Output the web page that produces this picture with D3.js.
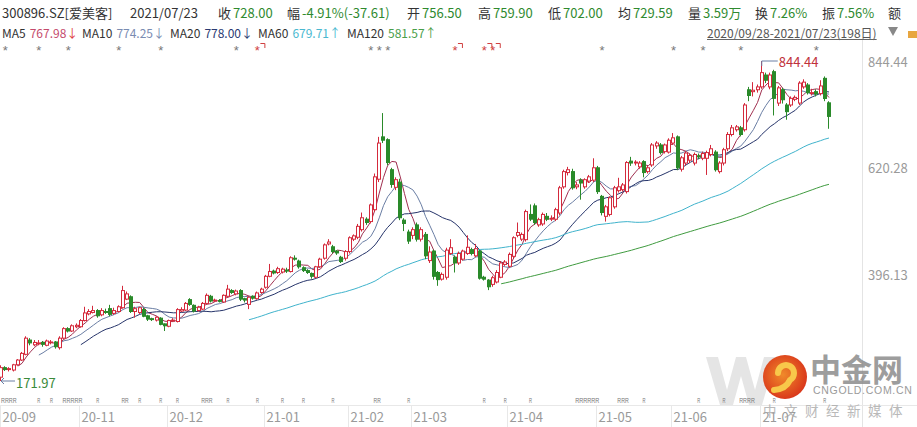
<!DOCTYPE html>
<html><head><meta charset="utf-8">
<script src="https://cdn.jsdelivr.net/npm/d3@7/dist/d3.min.js"></script>
<style>
body{margin:0;background:#fff;overflow:hidden;}
svg{display:block;font-family:"Noto Sans CJK SC","Microsoft YaHei",sans-serif;}
</style>
</head><body>
<svg id="chart" width="917" height="427"></svg>
<script>
// ---------- DATA ----------
const opens=[
180,200,196,195,206,216,228,258,248,250,
253,247,253,254,242,262,282,277,286,286,
299,313,316,320,311,318,324,314,318,326,
344,349,318,316,322,309,303,300,304,292,
287,298,297,319,321,343,331,320,323,335,
350,340,341,338,350,362,355,362,345,333,
350,345,358,369,392,403,400,401,405,402,
430,424,410,404,398,390,412,430,460,454,
445,432,430,444,470,474,490,512,507,532,
596,685,679,616,579,590,510,485,478,500,
470,480,425,445,400,386,390,440,432,420,
428,440,448,435,445,390,384,375,380,390,
417,413,434,478,470,469,522,540,500,502,
518,512,512,525,580,610,612,580,594,580,
592,594,620,560,518,522,538,572,574,570,
634,630,622,633,612,626,666,668,654,653,
672,685,617,630,636,630,645,640,640,648,
653,612,630,660,690,700,704,700,784,780,
784,790,815,790,822,756,784,752,752,764,
756,790,794,776,780,776,808,756.5];
const highs=[
205,203,201,208,218,233,266,262,258,258,
256,259,258,256,266,285,285,291,293,302,
328,323,330,323,325,324,332,326,331,372,
360,352,328,328,326,311,305,308,306,293,
301,304,325,327,338,346,333,330,338,356,
353,345,344,354,374,365,364,365,347,350,
352,360,368,395,418,406,412,410,410,434,
436,427,413,407,400,414,431,461,470,458,
447,435,447,476,480,502,526,516,545,608,
685,735,682,620,600,597,514,490,495,505,
495,485,455,448,403,400,452,470,436,444,
448,478,452,460,448,393,386,393,405,424,
426,442,476,505,484,532,543,545,515,526,
525,520,536,582,616,622,618,590,598,598,
605,640,624,563,542,560,582,599,588,634,
643,636,634,636,624,672,676,672,671,682,
693,688,645,655,650,652,650,654,656,668,
657,634,662,695,710,710,708,756,790,800,
795,844.44,820,820,826,792,788,756,770,772,
802,806,798,786,785,804,812,759.9];
const lows=[
171.97,193,192,192,204,214,226,247,245,247,
244,245,249,240,238,260,274,275,283,284,
297,310,314,305,308,313,308,311,316,324,
342,315,305,313,306,298,298,297,289,277,
285,296,295,317,319,330,316,318,321,333,
337,338,337,336,348,355,352,340,337,323,
343,343,355,366,390,396,397,398,399,400,
425,408,401,397,387,388,410,427,457,440,
437,420,425,440,466,470,486,500,503,528,
590,672,625,578,573,510,487,460,470,465,
465,428,420,385,372,383,385,437,400,416,
425,437,436,432,385,383,363,370,377,388,
414,410,430,474,466,465,508,500,496,498,
508,508,508,520,576,604,574,575,553,576,
588,590,565,520,507,518,534,568,570,566,
624,625,618,600,608,622,660,648,650,650,
668,615,612,625,630,625,638,636,605,644,
612,608,625,655,686,696,686,696,760,770,
778,786,798,785,730,750,755,721,748,760,
752,786,774,772,770,772,760,702];
const closes=[
200,196,198,206,216,230,262,252,253,252,
249,256,254,244,262,282,277,288,289,299,
315,318,320,309,320,316,312,320,328,362,
355,318,324,326,308,302,301,306,291,288,
299,300,322,322,335,333,319,327,335,352,
340,342,340,352,365,358,361,344,342,348,
346,357,365,392,402,399,408,407,403,431,
428,412,404,400,392,412,428,458,464,444,
441,423,444,473,477,497,515,505,542,601,
672,678,631,585,595,515,503,466,490,470,
490,435,443,392,385,396,447,452,420,440,
445,453,440,450,388,386,370,389,400,420,
422,438,473,484,480,528,512,505,511,522,
512,514,532,578,612,616,578,584,588,595,
601,620,570,526,538,557,578,580,584,631,
630,632,630,610,620,668,672,652,668,678,
683,620,641,651,646,648,643,650,652,660,
616,630,658,690,704,706,690,752,772,783,
790,820,804,815,766,788,763,738,766,768,
798,800,778,778,775,792,765.61,728];

const monthLabels=["20-09","20-11","20-12","21-01","21-02","21-03","21-04","21-05","21-06","21-07"];
const monthStarts=[0,19,40,63,83,98,121,142,160,181];
const yTicks=[844.44,620.28,396.13];
const maPeriods=[5,10,20,60,120];
const maNames=["MA5","MA10","MA20","MA60","MA120"];
const maValues=["767.98","774.25","778.00","679.71","581.57"];
const maArrows=["↓","↓","↓","↑","↑"];
const infoLabels=["收","幅","开","高","低","均","量","换","振","额"];
const infoValues=["728.00","-4.91%(-37.61)","756.50","759.90","702.00","729.59","3.59万","7.26%","7.56%",""];
const rMarks=[0,1,2,3,9,12,15,16,17,18,19,23,29,30,33,38,42,48,49,50,54,61,67,72,79,89,90,97,115,120,126,137,138,139,140,141,142,147,148,149,153,166,172,176,177,178,179,184,196];
const starGray=[1,9,16,28,38,56,88,90,92,143,160,167,176,194];
const starRed=[61,108,115,117];

// ---------- STYLE ----------
const UP="#d42a3c", DOWN="#2a8a2a";
const maColors=["#a03050","#6a7ea4","#26346a","#3fb3cc","#3f9b3f"];
const maValColors=["#c44a6c","#7a8cb2","#2a3a72","#4ab8d0","#4a9e4a"];

const svg=d3.select("#chart");
const N=closes.length;
const x=d3.scaleBand().domain(d3.range(N)).range([-1.1,831.1]).paddingInner(0).paddingOuter(0);
const step=x.step();
const xc=i=>x(i)+step/2;
const y=d3.scaleLinear().domain([171.97,844.44]).range([381,61]);

// ---------- frame ----------
svg.append("line").attr("x1",862.5).attr("x2",862.5).attr("y1",40).attr("y2",427).attr("stroke","#e4e4e4");
svg.append("line").attr("x1",0).attr("x2",917).attr("y1",405.5).attr("y2",405.5).attr("stroke","#e8e8e8");

// watermark "W" (graphic)
svg.append("path")
  .attr("d","M706,357L718,357L727,390L736,357L746,357L755,390L764,357L776,357L762,405L749,405L741,376L733,405L720,405Z")
  .attr("fill","#dedede").attr("opacity",0.8);

// month axis
const mg=svg.append("g");
monthStarts.forEach((s,k)=>{
  const px=Math.max(0.5,Math.round(x(s))+0.5);
  mg.append("line").attr("x1",px).attr("x2",px).attr("y1",406).attr("y2",427).attr("stroke","#e8e8e8");
  mg.append("text").attr("x",px+2).attr("y",416).attr("dominant-baseline","central")
    .attr("font-size",13).attr("fill","#9a9a9a").text(monthLabels[k]);
});

// R markers: consecutive indices grouped into runs
const runs=[];
rMarks.forEach(d=>{
  const last=runs[runs.length-1];
  if(last && d===last[last.length-1]+1) last.push(d); else runs.push([d]);
});
svg.append("g").selectAll("text").data(runs).join("text")
  .attr("x",r=>Math.max(1,x(r[0])+0.6)).attr("y",400).attr("dominant-baseline","central")
  .attr("textLength",r=>r.length*step-1.2).attr("lengthAdjust","spacingAndGlyphs")
  .attr("font-size",7.5).attr("font-family","Liberation Sans, Arial, sans-serif").attr("fill","#777")
  .text(r=>"R".repeat(r.length));

// right axis labels
svg.append("g").selectAll("text").data(yTicks).join("text")
  .attr("x",868).attr("y",d=>y(d)).attr("dominant-baseline","central")
  .attr("font-size",13).attr("fill","#9a9a9a").text(d=>d.toFixed(2));

// ---------- MA lines ----------
maPeriods.forEach((p,k)=>{
  const pts=[];
  for(let i=p-1;i<N;i++){ pts.push([i,d3.mean(closes.slice(i-p+1,i+1))]); }
  svg.append("path").datum(pts)
    .attr("d",d3.line().x(d=>xc(d[0])).y(d=>y(d[1])).curve(d3.curveLinear))
    .attr("fill","none").attr("stroke",maColors[k]).attr("stroke-width",1);
});

// ---------- candles ----------
const cg=svg.append("g");
for(let i=0;i<N;i++){
  const o=opens[i],c=closes[i],h=highs[i],l=lows[i];
  const up=c>=o;
  const col=up?UP:DOWN;
  const px=Math.round(xc(i));
  cg.append("line").attr("x1",px-0.5).attr("x2",px-0.5).attr("y1",y(h)).attr("y2",y(l)).attr("stroke",col).attr("stroke-width",1);
  const top=y(Math.max(o,c)), bot=y(Math.min(o,c));
  cg.append("rect").attr("x",px-1.5).attr("y",top).attr("width",3).attr("height",Math.max(0.8,bot-top))
    .attr("fill",up?"#fff":DOWN).attr("stroke",col).attr("stroke-width",1);
}

// max / min annotations
const iMax=d3.maxIndex(highs), iMin=d3.minIndex(lows);
const mx=xc(iMax), my=y(highs[iMax]);
svg.append("path").attr("d",`M${mx},${my+5}L${mx},${my}L${mx+16},${my}`).attr("fill","none").attr("stroke","#6a7ea4");
svg.append("text").attr("x",mx+17).attr("y",my).attr("dominant-baseline","central").attr("font-size",13).attr("fill","#c0303a").text(highs[iMax].toFixed(2));
const nx=xc(iMin), ny=y(lows[iMin]);
svg.append("path").attr("d",`M${nx+3},${ny-3}L${nx},${ny}L${nx+3},${ny+3}M${nx},${ny}L${nx+14},${ny}`).attr("fill","none").attr("stroke","#6a7ea4");
svg.append("text").attr("x",nx+15).attr("y",ny+1).attr("dominant-baseline","central").attr("font-size",13).attr("fill","#3a8a3a").text(lows[iMin].toFixed(2));

// stars
svg.append("g").selectAll("text").data(starGray).join("text")
  .attr("x",d=>xc(d)).attr("y",55).attr("text-anchor","middle").attr("font-size",13)
  .attr("font-family","Liberation Sans, Arial, sans-serif").attr("fill","#777").text("*");
const sr=svg.append("g");
starRed.forEach(d=>{
  const sx=xc(d);
  sr.append("text").attr("x",sx).attr("y",55).attr("text-anchor","middle").attr("font-size",13)
    .attr("font-family","Liberation Sans, Arial, sans-serif").attr("fill","#d04040").text("*");
  sr.append("path").attr("d",`M${sx+3},${43.5}L${sx+7.5},${43.5}L${sx+7.5},${48}`).attr("fill","none").attr("stroke","#d04040");
});

// ---------- header ----------
const h1=svg.append("text").attr("y",12).attr("dominant-baseline","central").attr("font-size",13);
h1.append("tspan").attr("x",2).attr("fill","#333").text("300896.SZ[爱美客]");
h1.append("tspan").attr("x",130).attr("fill","#333").text("2021/07/23");
const infoX=[218,287,407,478,548,618,688,755,822,888];
infoLabels.forEach((lab,k)=>{
  h1.append("tspan").attr("x",infoX[k]).attr("fill","#333").text(lab);
  if(infoValues[k]) h1.append("tspan").attr("dx",2).attr("fill","#2f8a2f").text(infoValues[k]);
});

const h2=svg.append("text").attr("y",32).attr("dominant-baseline","central").attr("font-size",12);
const maX=[2,82,170,258,347];
maNames.forEach((n,k)=>{
  h2.append("tspan").attr("x",maX[k]).attr("fill","#333").text(n);
  h2.append("tspan").attr("dx",4).attr("fill",maValColors[k]).text(maValues[k]);
  h2.append("tspan").attr("fill",k===0?"#e04040":maValColors[k]).text(maArrows[k]);
});
const rng=svg.append("text").attr("x",707).attr("y",32).attr("dominant-baseline","central").attr("font-size",12).attr("fill","#555").text("2020/09/28-2021/07/23(198日)");
const rl=rng.node().getComputedTextLength();
svg.append("line").attr("x1",707).attr("x2",707+rl).attr("y1",39.5).attr("y2",39.5).attr("stroke","#666");
svg.append("path").attr("d","M888,27L898,27L893,36Z").attr("fill","#888");
svg.append("rect").attr("x",908).attr("y",31).attr("width",9).attr("height",7).attr("fill","#e8a640");

// logo
const lg=svg.append("g");
const grad=svg.append("defs").append("radialGradient").attr("id","lgGrad").attr("cx","45%").attr("cy","45%").attr("r","60%");
grad.append("stop").attr("offset","0%").attr("stop-color","#f08a2a");
grad.append("stop").attr("offset","100%").attr("stop-color","#d8321a");
lg.append("circle").attr("cx",785).attr("cy",377).attr("r",22).attr("fill","url(#lgGrad)");
lg.append("path").attr("d","M778,373 a8,8 0 1 1 12,7 q-4,9 -16,10").attr("fill","none").attr("stroke","#f8c84a").attr("stroke-width",6).attr("stroke-linecap","round");
lg.append("text").attr("x",810).attr("y",381).attr("font-size",31).attr("font-weight","bold").attr("fill","#8c8c8c").attr("opacity",0.85).text("中金网");
lg.append("text").attr("x",813).attr("y",394).attr("font-size",10.5).attr("letter-spacing",0.7).attr("font-family","Liberation Sans, Arial, sans-serif").attr("fill","#9a9a9a").text("CNGOLD.COM.CN");
lg.append("text").attr("x",763).attr("y",416).attr("font-size",13.5).attr("letter-spacing",7.5).attr("fill","#a8a8a8").attr("opacity",0.8).text("中文财经新媒体");
</script>
</body></html>
